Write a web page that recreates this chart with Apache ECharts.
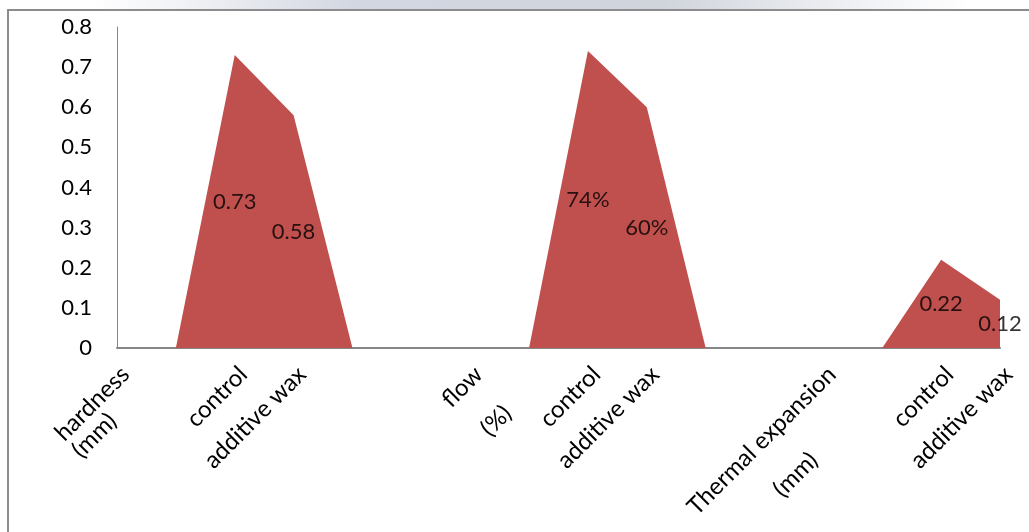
<!DOCTYPE html>
<html>
<head>
<meta charset="utf-8">
<script src="https://cdn.jsdelivr.net/npm/echarts@6/dist/echarts.min.js"></script>
<style>
  html, body { margin: 0; padding: 0; background: #fff; }
  #chart { width: 1029px; height: 532px; }
</style>
</head>
<body>
<div id="chart"></div>
<script>
// categories along the x axis (blank slots are spacer categories)
const categories = [
  'hardness\n(mm)', '', 'control', 'additive wax', '', '',
  'flow\n\n(%)', '', 'control', 'additive wax', '', '',
  'Thermal expansion\n\n(mm)', '', 'control', 'additive wax'
]
// plotted values
const values = [0, 0, 0.73, 0.58, 0, 0, 0, 0, 0.74, 0.60, 0, 0, 0, 0, 0.22, 0.12]
// text shown on the area
const valueLabels = ['', '', '0.73', '0.58', '', '', '', '', '74%', '60%', '', '', '', '', '0.22', '0.12']
const yTicks = [0, 0.1, 0.2, 0.3, 0.4, 0.5, 0.6, 0.7, 0.8]

const FONT = 'Lato, "Open Sans", sans-serif'
const AREA = '#c0504d'

const chart = echarts.init(document.getElementById('chart'))

// labels sit at half height of the area, like Excel does
const labelPoints = values
  .map((v, i) => ({ value: [i, v / 2], text: valueLabels[i] }))
  .filter(p => p.text !== '')

const option = {
  backgroundColor: '#fff',
  animation: false,
  grid: { left: 117, right: 29, top: 27, bottom: 184, containLabel: false, outerBoundsMode: 'none' },
  xAxis: {
    type: 'category',
    data: categories,
    boundaryGap: false,
    axisTick: { show: false },
    axisLine: { lineStyle: { color: '#868686', width: 2 } },
    axisLabel: {
      interval: 0,
      rotate: 45,
      margin: 14,
      verticalAlign: 'top',
      formatter: (val, idx) => {
        if (!val) return ''
        const style = idx === 0 ? 'l' : 'c'
        return val.split('\n').map(s => (s ? '{' + style + '|' + s + '}' : '{c| }')).join('\n')
      },
      rich: {
        c: { align: 'center', fontSize: 24, lineHeight: 24, color: '#000', fontFamily: FONT },
        l: { align: 'left', fontSize: 24, lineHeight: 24, color: '#000', fontFamily: FONT }
      }
    }
  },
  yAxis: {
    type: 'value',
    min: 0,
    max: 0.8,
    interval: 0.1,
    splitLine: { show: false },
    axisTick: { show: false },
    axisLine: { show: true, lineStyle: { color: '#868686', width: 1 } },
    axisLabel: {
      margin: 25,
      fontSize: 22,
      color: '#000',
      fontFamily: FONT,
      formatter: v => {
        const t = yTicks.find(k => Math.abs(k - v) < 1e-9)
        return t === 0 ? '0' : (t !== undefined ? t.toFixed(1) : '')
      }
    }
  },
  series: [
    {
      type: 'line',
      data: values,
      symbol: 'none',
      z: 2,
      lineStyle: { width: 0 },
      areaStyle: { color: AREA, opacity: 1 }
    },
    {
      type: 'scatter',
      data: labelPoints,
      symbolSize: 0,
      silent: true,
      z: 10,
      zlevel: 1,
      label: {
        show: true,
        position: 'inside',
        formatter: p => p.data.text,
        fontSize: 22,
        color: '#000',
        fontFamily: FONT
      }
    }
  ],
  graphic: [
    {
      type: 'rect',
      shape: { x: 90, y: 0, width: 880, height: 9 },
      style: {
        fill: new echarts.graphic.LinearGradient(0, 0, 1, 0, [
          { offset: 0, color: 'rgba(205,210,222,0)' },
          { offset: 0.3, color: 'rgba(200,205,218,0.8)' },
          { offset: 0.65, color: 'rgba(196,201,210,0.8)' },
          { offset: 1, color: 'rgba(205,210,222,0)' }
        ])
      },
      silent: true
    },
    {
      type: 'polyline',
      shape: { points: [[8, 532], [8, 10], [1029, 10]] },
      style: { stroke: '#8c8c8c', lineWidth: 2, fill: null },
      silent: true
    }
  ]
}

chart.setOption(option)
</script>
</body>
</html>
